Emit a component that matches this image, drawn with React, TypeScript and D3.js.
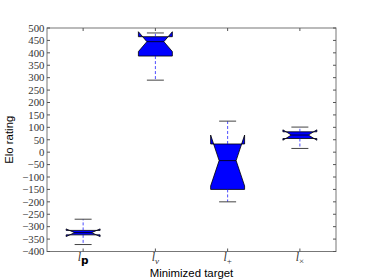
import { useEffect, useRef } from 'react';
import * as d3 from 'd3';

// box statistics, one entry per minimized target
const categories = ["p", "v", "+", "×"];
const whiskerHigh = [-270, 480, 125, 101];
const q3 = [-315, 465, 33, 82];
const notchHigh = [-309, 485, 69, 90];
const median = [-324, 445, -34, 69];
const notchLow = [-340, 405, -136, 48];
const q1 = [-333, 387, -150, 55];
const whiskerLow = [-372, 290, -200, 15];

const yTicks = [-400, -350, -300, -250, -200, -150, -100, -50, 0, 50, 100, 150, 200, 250, 300, 350, 400, 450, 500];

export default function App() {
  const svgRef = useRef<SVGSVGElement>(null);

  useEffect(() => {
    if (!svgRef.current) return;
    d3.select(svgRef.current).selectAll("*").remove();

    const width = 374;
    const height = 280;
    const margin = { top: 28, right: 38, bottom: 28.5, left: 47 };

    const svg = d3.select(svgRef.current)
      .attr("width", width)
      .attr("height", height);

    svg.append("rect").attr("width", width).attr("height", height).attr("fill", "#fff");

    const x = d3.scaleLinear()
      .domain([0.5, 4.5])
      .range([margin.left, width - margin.right]);

    const y = d3.scaleLinear()
      .domain([-400, 500])
      .range([height - margin.bottom, margin.top]);

    const boxHalf = 0.235;
    const capHalf = boxHalf / 2;

    const data = categories.map((c, i) => ({
      c,
      pos: i + 1,
      wHi: whiskerHigh[i],
      q3: q3[i],
      nHi: notchHigh[i],
      med: median[i],
      nLo: notchLow[i],
      q1: q1[i],
      wLo: whiskerLow[i],
    }));

    // notched boxes, drawn the way matplotlib builds them
    const line = d3.line<[number, number]>()
      .x(d => x(d[0]))
      .y(d => y(d[1]));

    svg.append("g")
      .selectAll("path")
      .data(data)
      .join("path")
      .attr("d", d => {
        const l = d.pos - boxHalf, r = d.pos + boxHalf;
        const ml = d.pos - capHalf, mr = d.pos + capHalf;
        const pts: [number, number][] = [
          [l, d.q1], [r, d.q1], [r, d.nLo], [mr, d.med], [r, d.nHi],
          [r, d.q3], [l, d.q3], [l, d.nHi], [ml, d.med], [l, d.nLo], [l, d.q1],
        ];
        return line(pts) + "Z";
      })
      .attr("fill", "#0000ff")
      .attr("stroke", "#000")
      .attr("stroke-width", 0.8)
      .attr("stroke-linejoin", "miter");

    // whiskers
    const lines = svg.append("g");
    data.forEach(d => {
      [[d.q3, d.wHi], [d.q1, d.wLo]].forEach(([a, b]) => {
        lines.append("line")
          .attr("x1", x(d.pos)).attr("x2", x(d.pos))
          .attr("y1", y(a)).attr("y2", y(b))
          .attr("stroke", "#0000ff")
          .attr("stroke-opacity", 0.7)
          .attr("stroke-width", 1)
          .attr("stroke-dasharray", "3,2");
      });
      // caps
      [d.wHi, d.wLo].forEach(v => {
        lines.append("line")
          .attr("x1", x(d.pos - capHalf)).attr("x2", x(d.pos + capHalf))
          .attr("y1", y(v)).attr("y2", y(v))
          .attr("stroke", "#444")
          .attr("stroke-width", 1);
      });
      // median
      lines.append("line")
        .attr("x1", x(d.pos - capHalf)).attr("x2", x(d.pos + capHalf))
        .attr("y1", y(d.med)).attr("y2", y(d.med))
        .attr("stroke", "#000")
        .attr("stroke-width", 0.8);
    });

    // frame
    svg.append("rect")
      .attr("x", margin.left)
      .attr("y", margin.top)
      .attr("width", width - margin.left - margin.right)
      .attr("height", height - margin.top - margin.bottom)
      .attr("fill", "none")
      .attr("stroke", "#777")
      .attr("stroke-width", 1);

    // ticks, pointing inward on all four sides
    const ticks = svg.append("g").attr("stroke", "#555").attr("stroke-width", 1);
    yTicks.forEach(t => {
      ticks.append("line").attr("x1", x(0.5)).attr("x2", x(0.5) + 3).attr("y1", y(t)).attr("y2", y(t));
      ticks.append("line").attr("x1", x(4.5)).attr("x2", x(4.5) - 3).attr("y1", y(t)).attr("y2", y(t));
    });
    data.forEach(d => {
      ticks.append("line").attr("x1", x(d.pos)).attr("x2", x(d.pos)).attr("y1", y(-400)).attr("y2", y(-400) - 3);
      ticks.append("line").attr("x1", x(d.pos)).attr("x2", x(d.pos)).attr("y1", y(500)).attr("y2", y(500) + 3);
    });

    // y tick labels
    svg.append("g")
      .selectAll("text")
      .data(yTicks)
      .join("text")
      .attr("x", x(0.5) - 2.5)
      .attr("y", d => y(d))
      .attr("dy", "0.35em")
      .attr("text-anchor", "end")
      .style("font-family", "'Liberation Serif', serif")
      .style("font-size", "10.8px")
      .attr("fill", "#333")
      .text(d => (d < 0 ? "\u2212" + Math.abs(d) : String(d)));

    // x tick labels: l with a subscript
    const xl = svg.append("g")
      .selectAll("text")
      .data(data)
      .join("text")
      .attr("x", d => x(d.pos))
      .attr("y", 261)
      .attr("text-anchor", "middle")
      .attr("fill", "#333");
    xl.append("tspan")
      .style("font-family", "'Liberation Serif', serif")
      .style("font-style", "italic")
      .style("font-size", "12px")
      .text("l");
    xl.append("tspan")
      .attr("dy", 3)
      .style("font-family", d => d.c === "p" ? "'DejaVu Sans', sans-serif" : "'Liberation Serif', serif")
      .style("font-weight", d => d.c === "p" ? "bold" : "normal")
      .style("font-style", d => d.c === "v" ? "italic" : "normal")
      .style("font-size", d => d.c === "p" ? "10.5px" : "9px")
      .attr("fill", d => d.c === "p" ? "#000" : "#333")
      .text(d => d.c);

    // axis titles
    svg.append("text")
      .attr("x", (x(0.5) + x(4.5)) / 2)
      .attr("y", 277)
      .attr("text-anchor", "middle")
      .style("font-family", "'Liberation Sans', Arial, sans-serif")
      .style("font-size", "11.4px")
      .attr("fill", "#000")
      .text("Minimized target");

    svg.append("text")
      .attr("transform", `translate(13,${(y(-400) + y(500)) / 2}) rotate(-90)`)
      .attr("text-anchor", "middle")
      .style("font-family", "'Liberation Sans', Arial, sans-serif")
      .style("font-size", "11.4px")
      .attr("fill", "#000")
      .text("Elo rating");
  }, []);

  return (
    <div style={{ position: "absolute", left: 0, top: 0 }}>
      <svg ref={svgRef}></svg>
    </div>
  );
}
